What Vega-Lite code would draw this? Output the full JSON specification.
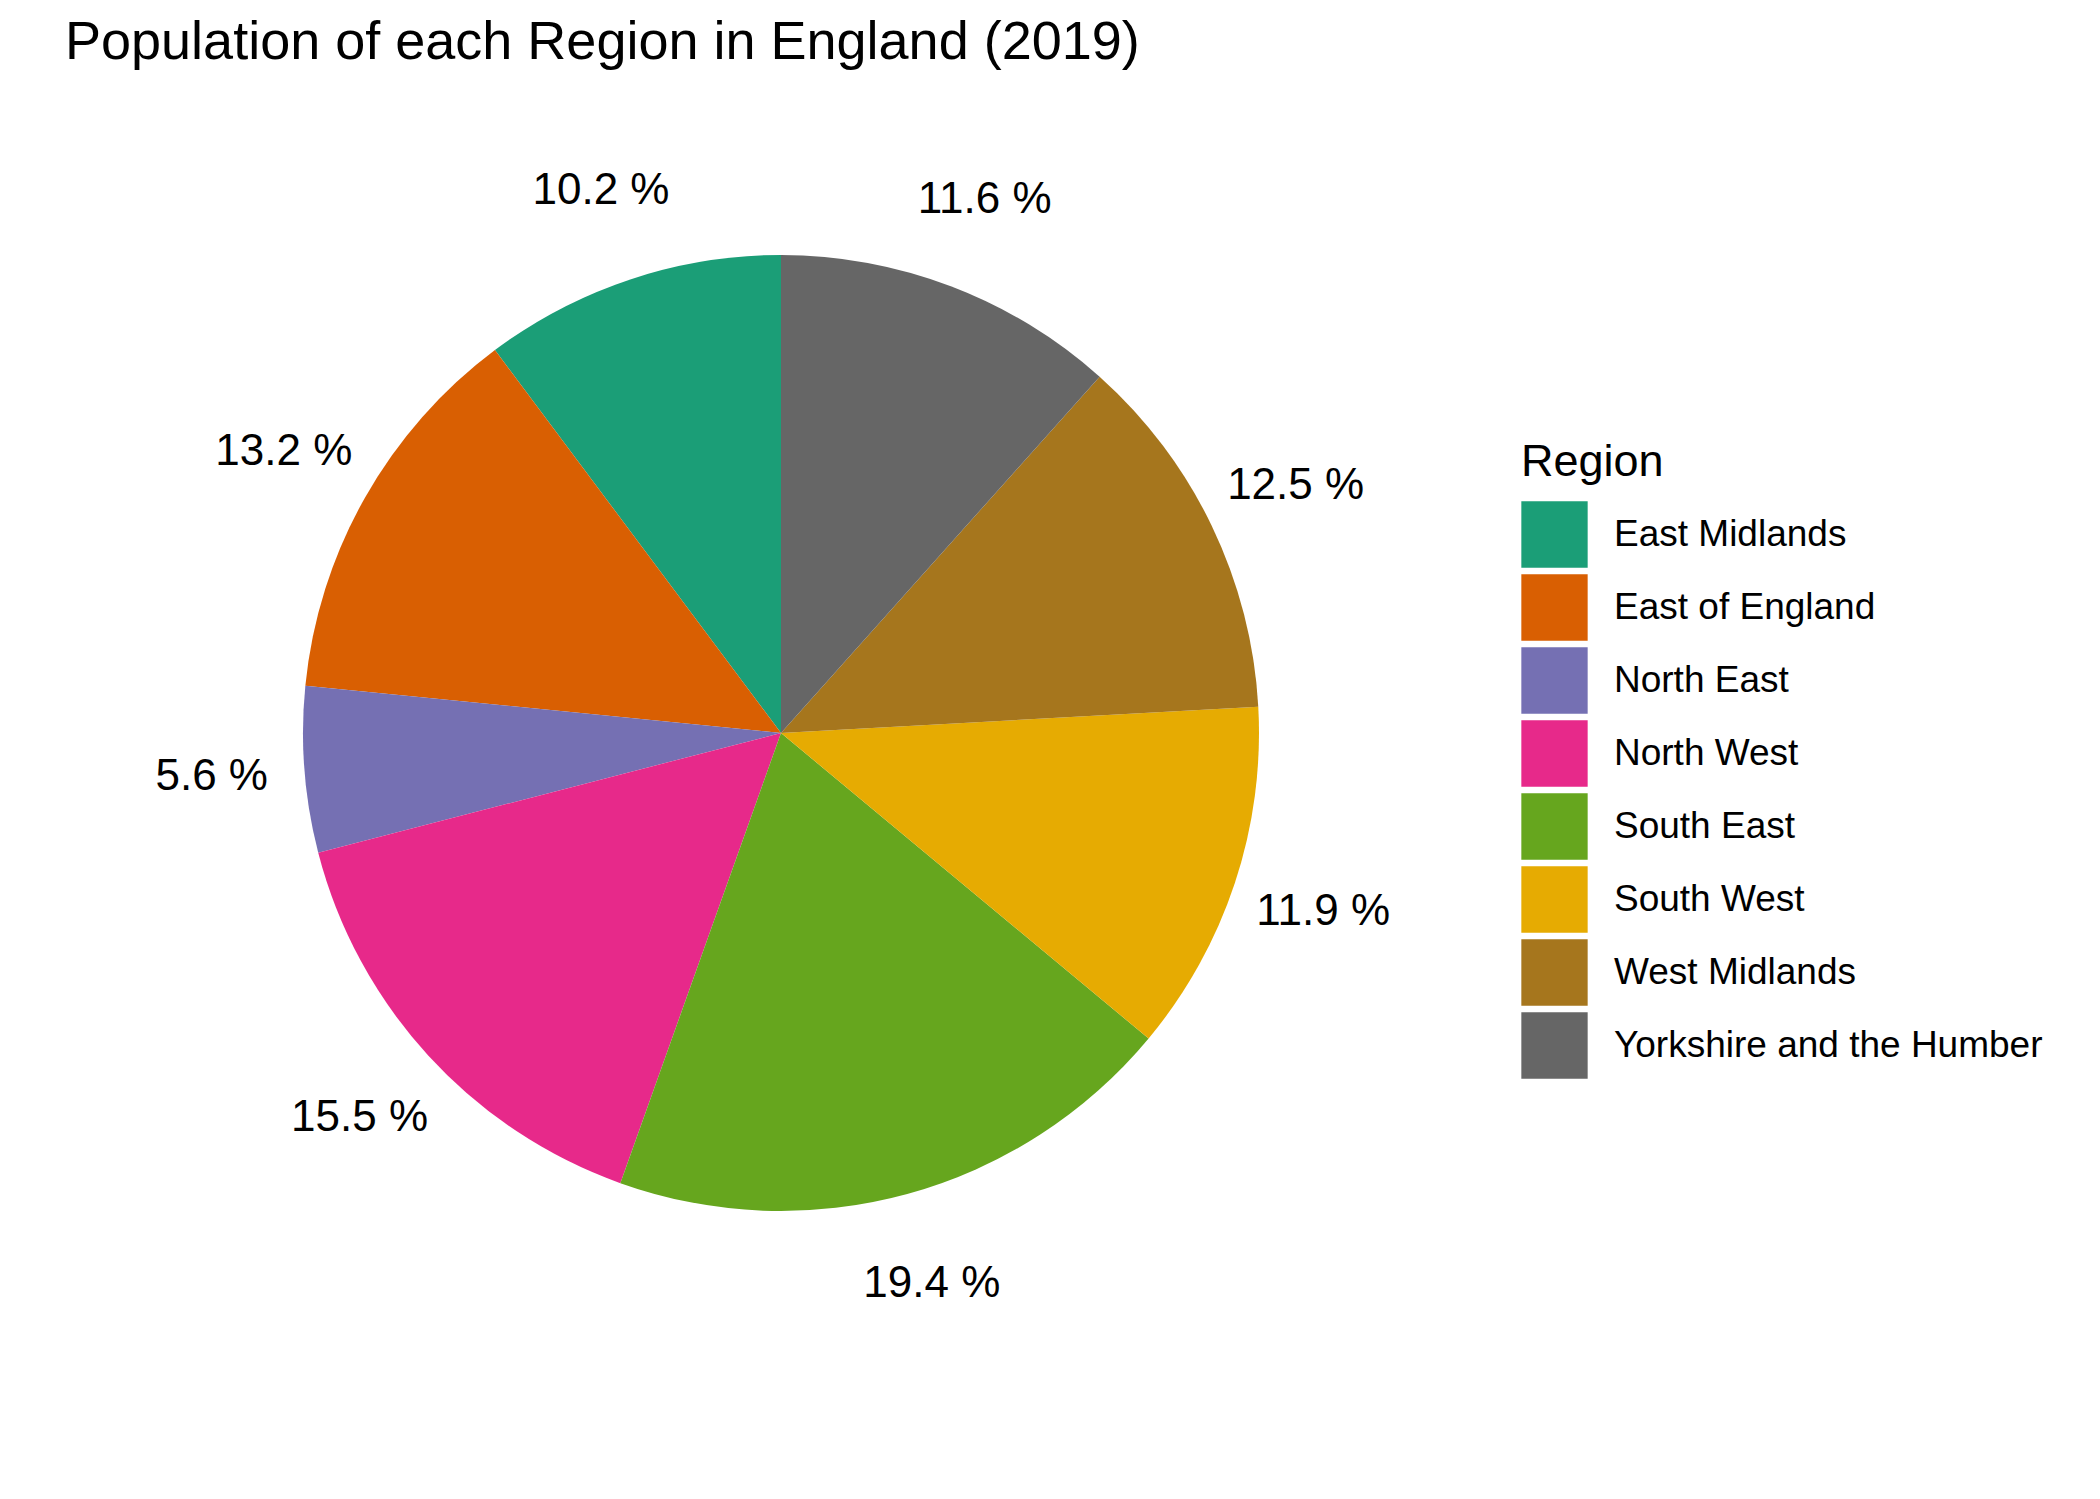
{
  "$schema": "https://vega.github.io/schema/vega-lite/v6.json",
  "autosize": {"type": "fit", "contains": "padding"},
  "width": 2100,
  "height": 1499,
  "padding": 0,
  "background": "white",
  "title": {"text": "Population of each Region in England (2019)", "anchor": "start", "offset": 0, "dx": 65, "dy": 70, "fontSize": 54, "fontWeight": "normal", "font": "Liberation Sans", "color": "black"},
  "data": {
    "values": [
      {"Region": "East Midlands", "idx": 1, "pct": 10.2, "label": "10.2 %"},
      {"Region": "East of England", "idx": 2, "pct": 13.2, "label": "13.2 %"},
      {"Region": "North East", "idx": 3, "pct": 5.6, "label": "5.6 %"},
      {"Region": "North West", "idx": 4, "pct": 15.5, "label": "15.5 %"},
      {"Region": "South East", "idx": 5, "pct": 19.4, "label": "19.4 %"},
      {"Region": "South West", "idx": 6, "pct": 11.9, "label": "11.9 %"},
      {"Region": "West Midlands", "idx": 7, "pct": 12.5, "label": "12.5 %"},
      {"Region": "Yorkshire and the Humber", "idx": 8, "pct": 11.6, "label": "11.6 %"}
    ]
  },
  "encoding": {
    "theta": {"field": "pct", "type": "quantitative", "stack": true},
    "order": {"field": "idx", "type": "quantitative", "sort": "descending"}
  },
  "layer": [
    {
      "mark": {"type": "arc", "outerRadius": 478, "x": 781, "y": 733},
      "encoding": {
        "color": {
          "field": "Region", "type": "nominal",
          "scale": {"range": ["#1B9E77", "#D95F02", "#7570B3", "#E7298A", "#66A61E", "#E6AB02", "#A6761D", "#666666"]},
          "legend": {
            "orient": "none", "legendX": 1521, "legendY": 440,
            "title": "Region", "titleFontSize": 45, "titleFontWeight": "normal", "titleFont": "Liberation Sans", "titleColor": "black", "titlePadding": 16,
            "labelFontSize": 37, "labelFont": "Liberation Sans", "labelColor": "black", "labelOffset": 26, "labelLimit": 600,
            "symbolType": "square", "symbolSize": 4400, "symbolStrokeWidth": 0, "symbolOpacity": 1, "rowPadding": 6
          }
        }
      }
    },
    {
      "mark": {"type": "text", "radius": 571, "x": 781, "y": 733, "fontSize": 44, "font": "Liberation Sans", "color": "black"},
      "encoding": {"text": {"field": "label", "type": "nominal"}}
    }
  ]
}
